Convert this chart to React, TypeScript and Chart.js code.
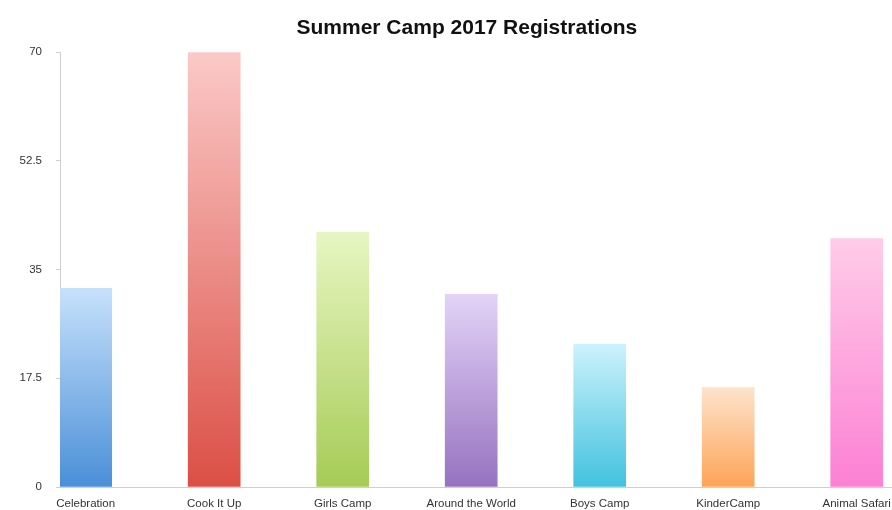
import React, { useEffect, useRef } from "react";
import { Chart, registerables } from "chart.js";

Chart.register(...registerables);

const categories = [
  "Celebration",
  "Cook It Up",
  "Girls Camp",
  "Around the World",
  "Boys Camp",
  "KinderCamp",
  "Animal Safari",
];
const registrations = [32, 70, 41, 31, 23, 16, 40];
const yTicks = [0, 17.5, 35, 52.5, 70];
const titleText = "Summer Camp 2017 Registrations";

const topColors = ["#c7e1fb", "#fbc9c7", "#e7f6c2", "#e3d3f7", "#ccf2fb", "#fde3cc", "#ffcce8"];
const bottomColors = ["#4a8fd8", "#db4f45", "#a6cb56", "#9672c0", "#42c2df", "#fda457", "#fc80d4"];

export default function App() {
  const ref = useRef<HTMLCanvasElement | null>(null);

  useEffect(() => {
    if (!ref.current) return;
    const chart = new Chart(ref.current, {
      type: "bar",
      data: {
        datasets: [
          {
            label: "Registrations",
            data: registrations.map((v, i) => ({ x: i, y: v })),
            borderWidth: 0,
            barThickness: 52,
            backgroundColor: (ctx: any) => {
              const i = ctx.dataIndex ?? 0;
              const c = ctx.chart;
              const ys = c.scales && c.scales.y;
              if (!ys || ctx.type !== "data") return bottomColors[i];
              const top = ys.getPixelForValue(registrations[i]);
              const base = ys.getPixelForValue(0);
              if (!isFinite(top) || !isFinite(base) || top === base) return bottomColors[i];
              const g = c.ctx.createLinearGradient(0, top, 0, base);
              g.addColorStop(0, topColors[i]);
              g.addColorStop(1, bottomColors[i]);
              return g;
            },
          },
        ],
      },
      options: {
        animation: false,
        responsive: false,
        layout: { padding: { left: 0, right: 6.2, top: 0, bottom: 0 } },
        plugins: {
          legend: { display: false },
          tooltip: { enabled: false },
          title: {
            display: true,
            text: titleText,
            color: "#111111",
            font: { family: "'Liberation Sans', Arial, sans-serif", size: 21, weight: "bold", lineHeight: 1.2 },
            padding: { top: 16, bottom: 11 },
          },
        },
        scales: {
          x: {
            type: "linear",
            offset: false,
            min: -0.2,
            max: 6.6,
            afterFit: (scale: any) => {
              scale.height = 23;
            },
            grid: { display: false, drawOnChartArea: false, drawTicks: false },
            border: { display: true, color: "#cfcfcf", width: 1 },
            ticks: {
              stepSize: 1,
              includeBounds: false,
              autoSkip: false,
              maxRotation: 0,
              padding: 9.5,
              color: "#333333",
              font: { family: "'Liberation Sans', Arial, sans-serif", size: 11.5, lineHeight: 1.2 },
              callback: (v: any) => {
                const n = Number(v);
                return Number.isInteger(n) && categories[n] !== undefined ? categories[n] : "";
              },
            },
          },
          y: {
            type: "linear",
            min: 0,
            max: 70,
            afterFit: (scale: any) => {
              scale.width = 60;
            },
            afterBuildTicks: (scale: any) => {
              scale.ticks = yTicks.map((v) => ({ value: v }));
            },
            grid: { display: true, drawOnChartArea: false, drawTicks: true, tickLength: 4, color: "#cfcfcf" },
            border: { display: true, color: "#cfcfcf", width: 1 },
            ticks: {
              padding: 14,
              color: "#333333",
              font: { family: "'Liberation Sans', Arial, sans-serif", size: 11.5 },
              callback: (v: any) => String(v),
            },
          },
        },
      },
    } as any);
    return () => chart.destroy();
  }, []);

  return (
    <div
      style={{
        position: "fixed",
        left: 0,
        top: 0,
        width: 892,
        height: 510,
        overflow: "hidden",
        background: "#ffffff",
      }}
    >
      <canvas ref={ref} width={940} height={510} style={{ display: "block", width: 940, height: 510 }} />
    </div>
  );
}
